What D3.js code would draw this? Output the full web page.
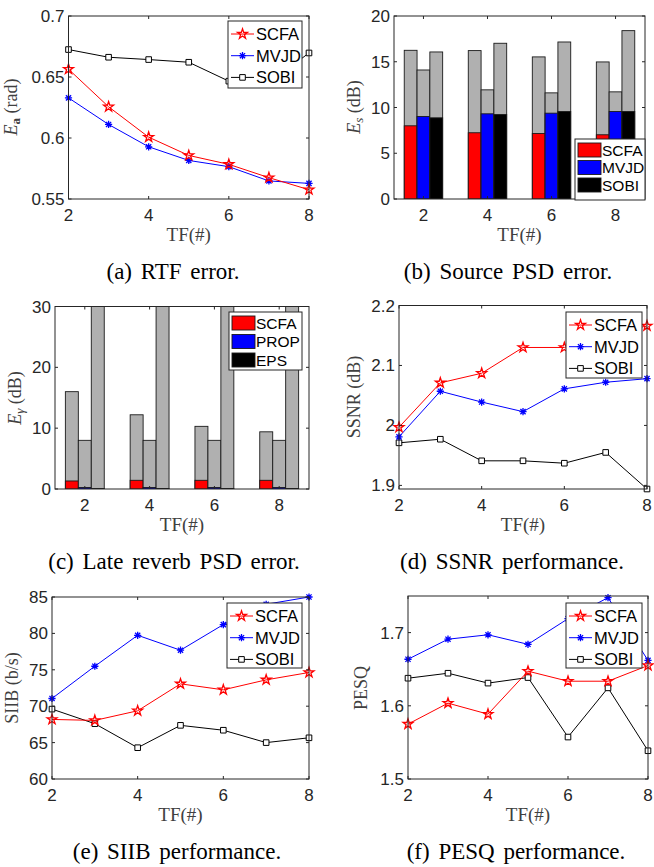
<!DOCTYPE html>
<html>
<head>
<meta charset="utf-8">
<script src="https://cdn.jsdelivr.net/npm/d3@7"></script>
<style>
  body { margin: 0; background: #fff; }
  svg { display: block; }
</style>
</head>
<body>
<script>
// ---- data ----
const tf = [2, 3, 4, 5, 6, 7, 8];
const tfBars = [2, 4, 6, 8];
const xTicks = [2, 4, 6, 8];

// (a) RTF error
const rtfSCFA = [0.6564, 0.6256, 0.6007, 0.5857, 0.5784, 0.5675, 0.5576];
const rtfMVJD = [0.6329, 0.6111, 0.5928, 0.5816, 0.5765, 0.5648, 0.5628];
const rtfSOBI = [0.6725, 0.6662, 0.6643, 0.6621, 0.6466, 0.6450, 0.6697];

// (b) source PSD error: coloured part and grey total
const psdSCFA = [8.0, 7.24, 7.16, 7.02];
const psdMVJD = [9.02, 9.31, 9.38, 9.56];
const psdSOBI = [8.87, 9.24, 9.56, 9.56];
const psdSCFATop = [16.25, 16.22, 15.53, 14.98];
const psdMVJDTop = [14.1, 11.93, 11.6, 11.71];
const psdSOBITop = [16.07, 17.02, 17.16, 18.4];

// (c) late reverb PSD error
const lrSCFA = [1.32, 1.43, 1.43, 1.43];
const lrPROP = [0.25, 0.25, 0.25, 0.25];
const lrEPS = [0.08, 0.08, 0.08, 0.08];
const lrSCFATop = [16.0, 12.2, 10.3, 9.4];
const lrPROPTop = [8.0, 8.0, 8.0, 8.0];
const lrEPSTop = [40, 40, 40, 40];

// (d) SSNR
const ssnrSCFA = [1.997, 2.071, 2.087, 2.130, 2.130, 2.150, 2.166];
const ssnrMVJD = [1.981, 2.057, 2.039, 2.023, 2.061, 2.072, 2.078];
const ssnrSOBI = [1.971, 1.977, 1.941, 1.941, 1.937, 1.955, 1.894];

// (e) SIIB
const siibSCFA = [68.18, 68.05, 69.37, 73.07, 72.25, 73.62, 74.63];
const siibMVJD = [71.06, 75.49, 79.74, 77.69, 81.21, 84.0, 85.0];
const siibSOBI = [69.6, 67.6, 64.3, 67.37, 66.7, 65.0, 65.66];

// (f) PESQ
const pesqSCFA = [1.575, 1.6036, 1.5886, 1.6473, 1.6336, 1.6336, 1.655];
const pesqMVJD = [1.6636, 1.691, 1.697, 1.684, 1.719, 1.7477, 1.662];
const pesqSOBI = [1.6377, 1.6445, 1.631, 1.6386, 1.5573, 1.6245, 1.5386];

const names3 = ["SCFA", "MVJD", "SOBI"];
const namesLR = ["SCFA", "PROP", "EPS"];

// ---- setup ----
const svg = d3.select("body").append("svg")
    .attr("width", 654)
    .attr("height", 867);

const AX = "#262626";
const SANS = "'Liberation Sans', Arial, sans-serif";
const SERIF = "'Liberation Serif', 'Times New Roman', serif";
const colors = { SCFA: "#ff0000", MVJD: "#0000ff", SOBI: "#000000" };
const barColors = ["#ff0000", "#0000ff", "#000000"];
const GREY = "#b0b0b0";

// marker shapes
function markerPath(kind) {
    if (kind === "star") {
        const pts = [];
        for (let i = 0; i < 10; i++) {
            const r = i % 2 === 0 ? 5.2 : 2.0;
            const a = -Math.PI / 2 + i * Math.PI / 5;
            pts.push([r * Math.cos(a), r * Math.sin(a)]);
        }
        return "M" + pts.map(p => p.join(",")).join("L") + "Z";
    }
    if (kind === "ast") {
        const r = 3.6, d = r * 0.72;
        return `M${-r},0L${r},0M0,${-r}L0,${r}M${-d},${-d}L${d},${d}M${-d},${d}L${d},${-d}`;
    }
    return "M-2.8,-2.8L2.8,-2.8L2.8,2.8L-2.8,2.8Z";
}
const markerKind = { SCFA: "star", MVJD: "ast", SOBI: "sq" };

function drawMarker(g, kind, x, y, color) {
    g.append("path")
        .attr("d", markerPath(kind))
        .attr("transform", `translate(${x},${y})`)
        .attr("fill", kind === "sq" ? "#fff" : "none")
        .attr("stroke", color)
        .attr("stroke-width", kind === "sq" ? 1 : 1.3);
}

// axes frame with inward ticks on all four sides
function frame(box, x, y, yTicks, yFmt) {
    const g = svg.append("g");
    g.append("rect")
        .attr("x", box.l).attr("y", box.t)
        .attr("width", box.r - box.l).attr("height", box.b - box.t)
        .attr("fill", "none").attr("stroke", AX).attr("stroke-width", 1);
    const tl = 3;
    xTicks.forEach(v => {
        const px = x(v);
        g.append("line").attr("x1", px).attr("x2", px).attr("y1", box.b).attr("y2", box.b - tl)
            .attr("stroke", AX);
        g.append("line").attr("x1", px).attr("x2", px).attr("y1", box.t).attr("y2", box.t + tl)
            .attr("stroke", AX);
        g.append("text").attr("x", px).attr("y", box.b + 22)
            .attr("text-anchor", "middle")
            .attr("font-family", SANS).attr("font-size", 17).attr("fill", AX)
            .text(v);
    });
    yTicks.forEach(v => {
        const py = y(v);
        g.append("line").attr("x1", box.l).attr("x2", box.l + tl).attr("y1", py).attr("y2", py)
            .attr("stroke", AX);
        g.append("line").attr("x1", box.r).attr("x2", box.r - tl).attr("y1", py).attr("y2", py)
            .attr("stroke", AX);
        g.append("text").attr("x", box.l - 4).attr("y", py + 6)
            .attr("text-anchor", "end")
            .attr("font-family", SANS).attr("font-size", 17).attr("fill", AX)
            .text(yFmt ? yFmt(v) : v);
    });
    // x label
    g.append("text").attr("x", (box.l + box.r) / 2).attr("y", box.b + 42)
        .attr("text-anchor", "middle")
        .attr("font-family", SERIF).attr("font-size", 19).attr("fill", "#404040")
        .text("TF(#)");
    return g;
}

function yLabel(cx, cy, parts) {
    const t = svg.append("text")
        .attr("transform", `translate(${cx},${cy}) rotate(-90)`)
        .attr("text-anchor", "middle")
        .attr("font-family", SERIF).attr("font-size", 18).attr("fill", "#404040");
    parts.forEach(p => {
        const s = t.append("tspan").text(p.t);
        if (p.i) s.attr("font-style", "italic");
        if (p.b) s.attr("font-weight", "bold");
        if (p.sub) s.attr("baseline-shift", "-25%").attr("font-size", 13);
    });
}

function caption(cx, y, str) {
    svg.append("text").attr("x", cx).attr("y", y)
        .attr("text-anchor", "middle")
        .attr("font-family", SERIF).attr("font-size", 23)
        .attr("word-spacing", 3).attr("fill", "#000")
        .text(str);
}

function lineLegend(lb) {
    const g = svg.append("g");
    g.append("rect").attr("x", lb.x).attr("y", lb.y).attr("width", lb.w).attr("height", lb.h)
        .attr("fill", "#fff").attr("stroke", AX).attr("stroke-width", 1);
    names3.forEach((n, i) => {
        const cy = lb.y + 13 + i * 21.7;
        g.append("line").attr("x1", lb.x + 3).attr("x2", lb.x + 26).attr("y1", cy).attr("y2", cy)
            .attr("stroke", colors[n]).attr("stroke-width", 1);
        drawMarker(g, markerKind[n], lb.x + 14.5, cy, colors[n]);
        g.append("text").attr("x", lb.x + 28).attr("y", cy + 6)
            .attr("font-family", SANS).attr("font-size", 16.5).attr("fill", "#000")
            .text(n);
    });
}

function linePanel(box, yDomain, yTicks, series, legendBox, yFmt) {
    const x = d3.scaleLinear().domain([2, 8]).range([box.l, box.r]);
    const y = d3.scaleLinear().domain(yDomain).range([box.b, box.t]);
    svg.append("rect").attr("x", box.l).attr("y", box.t)
        .attr("width", box.r - box.l).attr("height", box.b - box.t).attr("fill", "#fff");
    const g = svg.append("g");
    const line = d3.line().x((d, i) => x(tf[i])).y(d => y(d));
    series.forEach(s => {
        g.append("path").attr("d", line(s.v)).attr("fill", "none")
            .attr("stroke", colors[s.n]).attr("stroke-width", 1);
        s.v.forEach((v, i) => drawMarker(g, markerKind[s.n], x(tf[i]), y(v), colors[s.n]));
    });
    frame(box, x, y, yTicks, yFmt);
    lineLegend(legendBox);
}

let clipId = 0;
function barPanel(box, yDomain, yTicks, lows, tops, names, legendBox, rowStep) {
    const x = d3.scaleLinear().domain([1.08, 8.92]).range([box.l, box.r]);
    const y = d3.scaleLinear().domain(yDomain).range([box.b, box.t]);
    const id = "clip" + (clipId++);
    svg.append("clipPath").attr("id", id).append("rect")
        .attr("x", box.l).attr("y", box.t).attr("width", box.r - box.l).attr("height", box.b - box.t);
    const g = svg.append("g").attr("clip-path", `url(#${id})`);
    const bw = 0.4;
    tfBars.forEach((t, gi) => {
        [0, 1, 2].forEach(k => {
            const cx = t + (k - 1) * bw;
            const x0 = x(cx - bw / 2), x1 = x(cx + bw / 2);
            // grey total
            g.append("rect").attr("x", x0).attr("width", x1 - x0)
                .attr("y", y(tops[k][gi])).attr("height", y(0) - y(tops[k][gi]))
                .attr("fill", GREY).attr("stroke", "#1a1a1a").attr("stroke-width", 0.9);
            // coloured part
            g.append("rect").attr("x", x0).attr("width", x1 - x0)
                .attr("y", y(lows[k][gi])).attr("height", y(0) - y(lows[k][gi]))
                .attr("fill", barColors[k]).attr("stroke", "#1a1a1a").attr("stroke-width", 0.9);
        });
    });
    frame(box, x, y, yTicks);
    const lg = svg.append("g");
    const lb = legendBox;
    lg.append("rect").attr("x", lb.x).attr("y", lb.y).attr("width", lb.w).attr("height", lb.h)
        .attr("fill", "#fff").attr("stroke", AX).attr("stroke-width", 1);
    names.forEach((n, i) => {
        const cy = lb.y + 11 + i * rowStep;
        lg.append("rect").attr("x", lb.x + 3).attr("y", cy - 7).attr("width", 23).attr("height", 14)
            .attr("fill", barColors[i]).attr("stroke", "#1a1a1a").attr("stroke-width", 0.9);
        lg.append("text").attr("x", lb.x + 27).attr("y", cy + 5.5)
            .attr("font-family", SANS).attr("font-size", 15.5).attr("fill", "#000")
            .text(n);
    });
}

// ---- panels ----
// (a)
linePanel({ l: 68.5, t: 16, r: 309, b: 199 }, [0.55, 0.7], [0.55, 0.6, 0.65, 0.7],
    [{ n: "SOBI", v: rtfSOBI }, { n: "MVJD", v: rtfMVJD }, { n: "SCFA", v: rtfSCFA }],
    { x: 228, y: 21, w: 74, h: 67 });
yLabel(17, 107, [{ t: "E", i: true }, { t: "a", b: true, sub: true }, { t: " (rad)" }]);
caption(173, 279, "(a) RTF error.");

// (b)
barPanel({ l: 394, t: 16, r: 645, b: 199 }, [0, 20], [0, 5, 10, 15, 20],
    [psdSCFA, psdMVJD, psdSOBI], [psdSCFATop, psdMVJDTop, psdSOBITop],
    names3, { x: 575, y: 139, w: 70, h: 61 }, 17.5);
yLabel(360, 107, [{ t: "E", i: true }, { t: "s", i: true, sub: true }, { t: " (dB)" }]);
caption(508, 279, "(b) Source PSD error.");

// (c)
barPanel({ l: 55, t: 306.5, r: 309, b: 489 }, [0, 30], [0, 10, 20, 30],
    [lrSCFA, lrPROP, lrEPS], [lrSCFATop, lrPROPTop, lrEPSTop],
    namesLR, { x: 229, y: 312, w: 73, h: 58 }, 18.5);
yLabel(21, 398, [{ t: "E", i: true }, { t: "γ", i: true, sub: true }, { t: " (dB)" }]);
caption(174, 569, "(c) Late reverb PSD error.");

// (d)
linePanel({ l: 399, t: 305.5, r: 647, b: 489 }, [1.894, 2.2], [1.9, 2, 2.1, 2.2],
    [{ n: "SOBI", v: ssnrSOBI }, { n: "MVJD", v: ssnrMVJD }, { n: "SCFA", v: ssnrSCFA }],
    { x: 566, y: 312, w: 76, h: 66 });
yLabel(360, 397, [{ t: "SSNR (dB)" }]);
caption(512, 569, "(d) SSNR performance.");

// (e)
linePanel({ l: 52, t: 597, r: 309, b: 779 }, [60, 85], [60, 65, 70, 75, 80, 85],
    [{ n: "SOBI", v: siibSOBI }, { n: "MVJD", v: siibMVJD }, { n: "SCFA", v: siibSCFA }],
    { x: 227, y: 603, w: 75, h: 65 });
yLabel(18, 688, [{ t: "SIIB (b/s)" }]);
caption(177, 859, "(e) SIIB performance.");

// (f)
linePanel({ l: 408, t: 596, r: 648, b: 779 }, [1.5, 1.75], [1.5, 1.6, 1.7],
    [{ n: "SOBI", v: pesqSOBI }, { n: "MVJD", v: pesqMVJD }, { n: "SCFA", v: pesqSCFA }],
    { x: 566, y: 603, w: 76, h: 65 });
yLabel(367, 688, [{ t: "PESQ" }]);
caption(516, 859, "(f) PESQ performance.");
</script>
</body>
</html>
